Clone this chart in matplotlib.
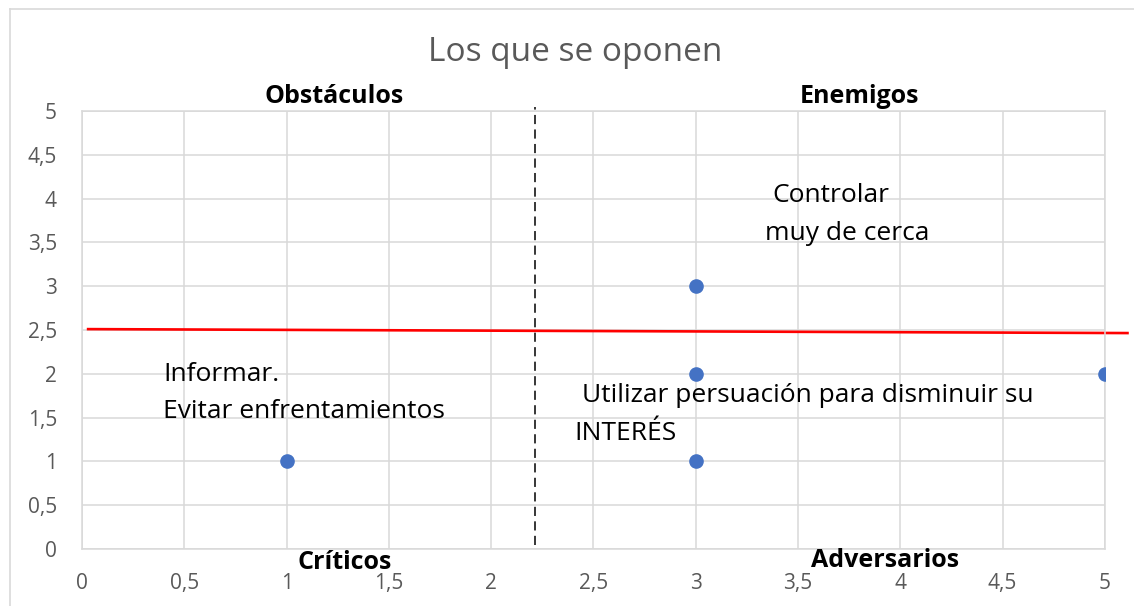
import matplotlib.pyplot as plt
from matplotlib.lines import Line2D
from matplotlib.ticker import MultipleLocator, FuncFormatter

# Stakeholders who oppose: (power, interest)
poder = [1, 3, 3, 3, 5]
interes = [1, 1, 2, 3, 2]

# Quadrant dividers
corte_x = 2.215
linea_roja_x = [0.03, 5.11]
linea_roja_y = [2.51, 2.465]

# Quadrant names (text, x, y)
cuadrantes = [
    ("Obstáculos", 1.23, 5.17),
    ("Enemigos", 3.80, 5.17),
    ("Críticos", 1.285, -0.15),
    ("Adversarios", 3.925, -0.13),
]

# Strategy notes (text, x, y)
notas = [
    ("Informar.", 0.396, 1.99),
    ("Evitar enfrentamientos", 0.396, 1.565),
    ("Controlar", 3.372, 4.04),
    ("muy de cerca", 3.338, 3.60),
    ("Utilizar persuación para disminuir su", 2.444, 1.75),
    ("INTERÉS", 2.405, 1.315),
]

plt.rcParams["font.family"] = ["Open Sans", "DejaVu Sans"]

fig = plt.figure(figsize=(11.34, 6.06), dpi=100)
ax = fig.add_axes([0.0723, 0.0941, 0.9021, 0.7227])

ax.set_xlim(0, 5)
ax.set_ylim(0, 5)
ax.xaxis.set_major_locator(MultipleLocator(0.5))
ax.yaxis.set_major_locator(MultipleLocator(0.5))
coma = FuncFormatter(lambda v, _: f"{v:g}".replace(".", ","))
ax.xaxis.set_major_formatter(coma)
ax.yaxis.set_major_formatter(coma)
ax.tick_params(length=0, labelsize=15, colors="#595959")
ax.tick_params(axis="x", pad=17)
ax.tick_params(axis="y", pad=18)
ax.grid(True, color="#D9D9D9", linewidth=1.1)
ax.set_axisbelow(True)
for s in ax.spines.values():
    s.set_color("#D9D9D9")
    s.set_linewidth(1.1)

ax.plot([corte_x, corte_x], [0.05, 5.05], color="black", linestyle=(0, (6, 3.5)),
        linewidth=1.1, clip_on=False)
ax.plot(linea_roja_x, linea_roja_y, color="#FF0000", linewidth=1.9, clip_on=False)
ax.plot(poder, interes, "o", color="#4472C4", markersize=9.5, linestyle="none", zorder=5)

for txt, x, y in cuadrantes:
    ax.text(x, y, txt, ha="center", va="center", fontsize=18, fontweight="bold",
            color="black", clip_on=False)

for txt, x, y in notas:
    ax.text(x, y, txt, ha="left", va="center", fontsize=19, color="black")

fig.text(0.507, 0.914, "Los que se oponen", ha="center", va="center",
         fontsize=24, color="#595959")

# Spreadsheet cell border around the chart
fig.add_artist(Line2D([10 / 1134, 1], [1 - 9 / 606, 1 - 9 / 606], color="#D9D9D9", linewidth=1.2))
fig.add_artist(Line2D([10 / 1134, 10 / 1134], [0, 1 - 9 / 606], color="#D9D9D9", linewidth=1.2))

fig.savefig("out.png", dpi=100)
